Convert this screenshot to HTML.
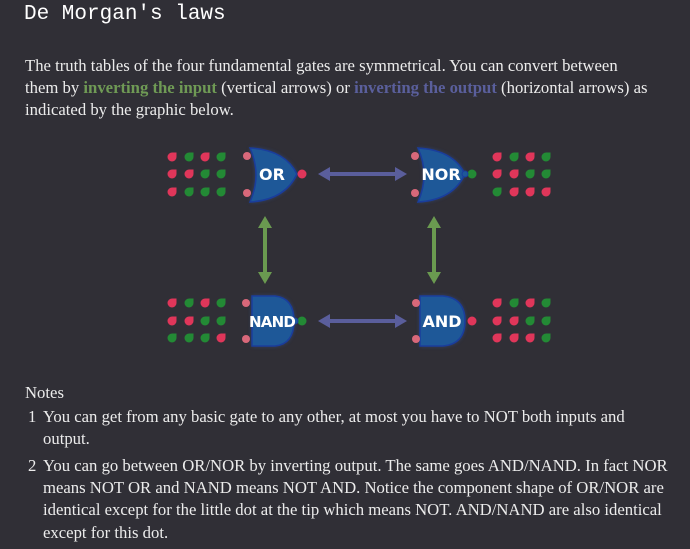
<!DOCTYPE html>
<html><head><meta charset="utf-8"><style>
body{margin:0;width:690px;height:549px;background:#302f36;overflow:hidden;position:relative;color:#ececec;font-family:"Liberation Serif",serif;}
.t{position:absolute;white-space:nowrap;font-size:16.7px;}
h1{position:absolute;left:24px;top:3px;margin:0;font:21px "Liberation Mono",monospace;color:#fff;}
.g{color:#6f9a55;font-weight:bold}.b{color:#5a5f9c;font-weight:bold}
svg{position:absolute;left:0;top:0}
</style></head><body>
<h1>De Morgan's laws</h1>
<div class="t" style="left:25px;top:56px">The truth tables of the four fundamental gates are symmetrical. You can convert between</div>
<div class="t" style="left:25px;top:78px">them by <span class="g">inverting the input</span> (vertical arrows) or <span class="b">inverting the output</span> (horizontal arrows) as</div>
<div class="t" style="left:25px;top:100px">indicated by the graphic below.</div>
<svg width="690" height="549" viewBox="0 0 690 549">
<defs>
<filter id="gl" x="-30%" y="-30%" width="160%" height="160%"><feGaussianBlur stdDeviation="2"/></filter>
<g id="dR"><path d="M0,-4.5 L4.5,-4.5 L4.5,0 A4.5,4.5 0 1 1 0,-4.5Z" fill="#e0365a"/></g>
<g id="dG"><path d="M0,-4.5 L4.5,-4.5 L4.5,0 A4.5,4.5 0 1 1 0,-4.5Z" fill="#238a35"/></g>
</defs>
<g fill="#5a5e9c" stroke="#5a5e9c" stroke-width="4">
<line x1="326" y1="174" x2="398" y2="174"/><line x1="326" y1="321" x2="398" y2="321"/>
<path d="M318,174 L330,167 L330,181Z" stroke="none"/><path d="M407,174 L395,167 L395,181Z" stroke="none"/>
<path d="M318,321 L330,314 L330,328Z" stroke="none"/><path d="M407,321 L395,314 L395,328Z" stroke="none"/>
</g>
<g fill="#6a9a50" stroke="#6a9a50" stroke-width="4">
<line x1="265" y1="224" x2="265" y2="276"/><line x1="434" y1="224" x2="434" y2="276"/>
<path d="M265,216 L258,228 L272,228Z" stroke="none"/><path d="M265,284 L258,272 L272,272Z" stroke="none"/>
<path d="M434,216 L427,228 L441,228Z" stroke="none"/><path d="M434,284 L427,272 L441,272Z" stroke="none"/>
</g>
<g font-family="DejaVu Sans,sans-serif" font-weight="bold" fill="#fff" text-anchor="middle">
<g>
<path d="M250,148 Q262,175 250,202 Q285,200 297,174 Q285,150 250,148Z" fill="#3060c0" opacity=".5" filter="url(#gl)"/>
<path d="M250,148 Q262,175 250,202 Q285,200 297,174 Q285,150 250,148Z" fill="#1e5898" stroke="#1a3d9c" stroke-width="1.5"/>
<circle cx="247" cy="156" r="4" fill="#d8687a"/><circle cx="247" cy="193" r="4" fill="#d8687a"/>
<circle cx="302" cy="174" r="4.5" fill="#e0365a"/>
<text x="272" y="180" font-size="16">OR</text>
</g>
<g>
<path d="M418,148 Q430,175 418,202 Q453,200 465,174 Q453,150 418,148Z" fill="#3060c0" opacity=".5" filter="url(#gl)"/>
<path d="M418,148 Q430,175 418,202 Q453,200 465,174 Q453,150 418,148Z" fill="#1e5898" stroke="#1a3d9c" stroke-width="1.5"/>
<circle cx="415" cy="156" r="4" fill="#d8687a"/><circle cx="415" cy="193" r="4" fill="#d8687a"/>
<circle cx="472" cy="174" r="4.5" fill="#238a35"/><circle cx="465" cy="174" r="3" fill="#1e5898" stroke="#1a3d9c"/>
<text x="441" y="180" font-size="16">NOR</text>
</g>
<g>
<path d="M252,296 L275,296 Q294,298 294,321 Q294,344 275,346 L252,346Z" fill="#3060c0" opacity=".5" filter="url(#gl)"/>
<path d="M252,296 L275,296 Q294,298 294,321 Q294,344 275,346 L252,346Z" fill="#1e5898" stroke="#1a3d9c" stroke-width="1.5"/>
<circle cx="246" cy="303" r="4" fill="#d8687a"/><circle cx="246" cy="339" r="4" fill="#d8687a"/>
<circle cx="302" cy="321" r="4.5" fill="#238a35"/><circle cx="295" cy="321" r="3" fill="#1e5898" stroke="#1a3d9c"/>
<text x="272" y="327" font-size="15" letter-spacing="-0.8">NAND</text>
</g>
<g>
<path d="M420,296 L443,296 Q465,298 465,321 Q465,344 443,346 L420,346Z" fill="#3060c0" opacity=".5" filter="url(#gl)"/>
<path d="M420,296 L443,296 Q465,298 465,321 Q465,344 443,346 L420,346Z" fill="#1e5898" stroke="#1a3d9c" stroke-width="1.5"/>
<circle cx="416" cy="303" r="4" fill="#d8687a"/><circle cx="416" cy="339" r="4" fill="#d8687a"/>
<circle cx="472" cy="321" r="4.5" fill="#e0365a"/>
<text x="442" y="327" font-size="16">AND</text>
</g>
</g>
<g>
<use href="#dR" x="172" y="157"/><use href="#dG" x="189" y="157"/><use href="#dR" x="205" y="157"/><use href="#dG" x="221" y="157"/>
<use href="#dR" x="172" y="174"/><use href="#dR" x="189" y="174"/><use href="#dG" x="205" y="174"/><use href="#dG" x="221" y="174"/>
<use href="#dR" x="172" y="192"/><use href="#dG" x="189" y="192"/><use href="#dG" x="205" y="192"/><use href="#dG" x="221" y="192"/>

<use href="#dR" x="497" y="157"/><use href="#dG" x="514" y="157"/><use href="#dR" x="530" y="157"/><use href="#dG" x="546" y="157"/>
<use href="#dR" x="497" y="174"/><use href="#dR" x="514" y="174"/><use href="#dG" x="530" y="174"/><use href="#dG" x="546" y="174"/>
<use href="#dG" x="497" y="192"/><use href="#dR" x="514" y="192"/><use href="#dR" x="530" y="192"/><use href="#dR" x="546" y="192"/>

<use href="#dR" x="172" y="303"/><use href="#dG" x="189" y="303"/><use href="#dR" x="205" y="303"/><use href="#dG" x="221" y="303"/>
<use href="#dR" x="172" y="321"/><use href="#dR" x="189" y="321"/><use href="#dG" x="205" y="321"/><use href="#dG" x="221" y="321"/>
<use href="#dG" x="172" y="338"/><use href="#dG" x="189" y="338"/><use href="#dG" x="205" y="338"/><use href="#dR" x="221" y="338"/>

<use href="#dR" x="497" y="303"/><use href="#dG" x="514" y="303"/><use href="#dR" x="530" y="303"/><use href="#dG" x="546" y="303"/>
<use href="#dR" x="497" y="321"/><use href="#dR" x="514" y="321"/><use href="#dG" x="530" y="321"/><use href="#dG" x="546" y="321"/>
<use href="#dR" x="497" y="338"/><use href="#dR" x="514" y="338"/><use href="#dR" x="530" y="338"/><use href="#dG" x="546" y="338"/>
</g>
</svg>
<div class="t" style="left:25px;top:383px">Notes</div>
<div class="t" style="left:28px;top:407px">1</div>
<div class="t" style="left:43px;top:407px">You can get from any basic gate to any other, at most you have to NOT both inputs and</div>
<div class="t" style="left:43px;top:429px">output.</div>
<div class="t" style="left:28px;top:456px">2</div>
<div class="t" style="left:43px;top:456px">You can go between OR/NOR by inverting output. The same goes AND/NAND. In fact NOR</div>
<div class="t" style="left:43px;top:478px">means NOT OR and NAND means NOT AND. Notice the component shape of OR/NOR are</div>
<div class="t" style="left:43px;top:500px">identical except for the little dot at the tip which means NOT. AND/NAND are also identical</div>
<div class="t" style="left:43px;top:523px">except for this dot.</div>
</body></html>
